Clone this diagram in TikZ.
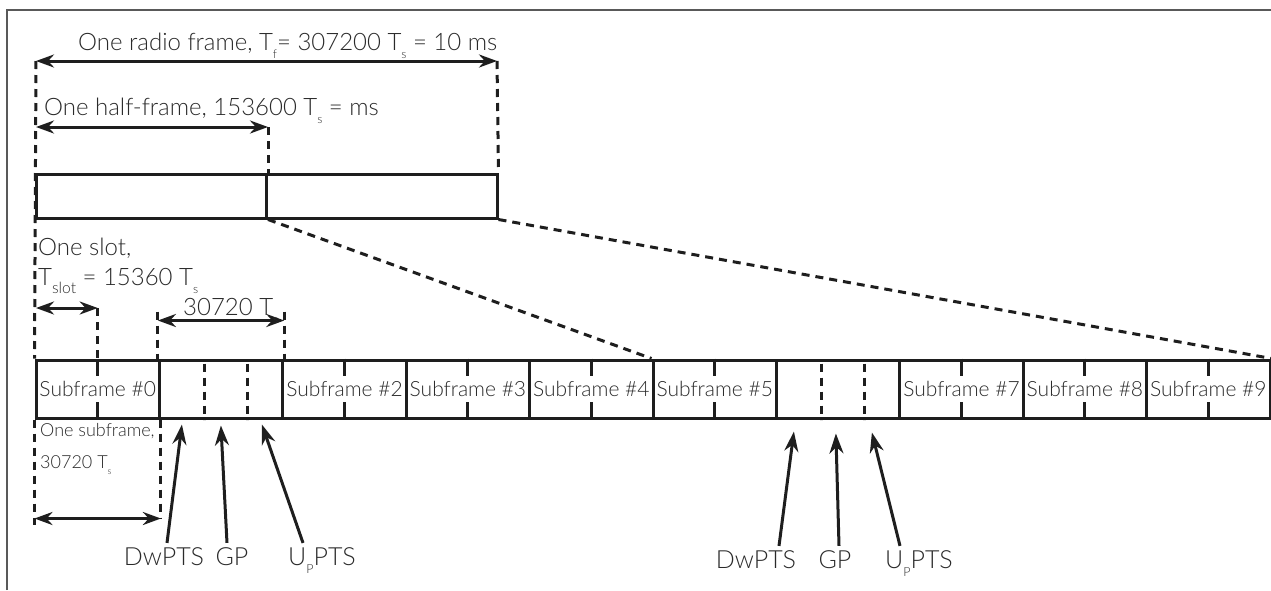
\documentclass[tikz,border=0pt]{standalone}
\usepackage{fontspec}
\setmainfont{Lato}[UprightFont=* Light]
\usetikzlibrary{arrows.meta,calc}

\definecolor{ink}{HTML}{2A2A2A}
\definecolor{rule}{HTML}{1E1E1E}
\newcommand{\lsub}[2][0.5]{\raisebox{-0.35em}{\scalebox{#1}{#2}}}

\begin{document}
\begin{tikzpicture}[x=1pt,y=-1pt]
        % styles
        \tikzstyle{half}=[draw=rule, line width=3pt, minimum width=230.5pt, minimum height=44pt, inner sep=0pt]
        \tikzstyle{subframe}=[draw=rule, line width=3pt, minimum width=123.4pt, minimum height=58pt, inner sep=0pt, text=ink, font=\fontsize{21}{24}\selectfont]
        \tikzstyle{slottick}=[rule, line width=3pt]
        \tikzstyle{guide}=[rule, line width=3pt, dash pattern=on 8pt off 6pt]
        \tikzstyle{dim}=[rule, line width=3pt, {Stealth[length=18pt,width=13pt]}-{Stealth[length=18pt,width=13pt]}]
        \tikzstyle{pointer}=[rule, line width=3pt, -{Stealth[length=20pt,width=14pt]}]
        \tikzstyle{lbl}=[text=ink, inner sep=0pt, font=\fontsize{24}{26}\selectfont]
        \tikzstyle{smalllbl}=[text=ink, inner sep=0pt, font=\fontsize{18}{20}\selectfont]
        \tikzstyle{field}=[text=ink, inner sep=4pt, font=\fontsize{25}{26}\selectfont]

        \useasboundingbox (0,0) rectangle (1271,590);

        % frame border
        \draw[black!65, line width=1.5pt] (7,590) -- (7,10) -- (1271,10);

        % radio frame
        \node[half] (half0) at (151.25,196) {};
        \node[half] (half1) at (381.75,196) {};

        % subframes
        \foreach \i/\name in {0/Subframe \#0,1/,2/Subframe \#2,3/Subframe \#3,4/Subframe \#4,5/Subframe \#5,6/,7/Subframe \#7,8/Subframe \#8,9/Subframe \#9}
            \node[subframe] (sf\i) at ({97.7+123.4*\i},389) {\name};

        % slot ticks
        \foreach \i in {0,2,3,4,5,7,8,9} {
            \draw[slottick] (sf\i.north) -- ++(0,17);
            \draw[slottick] (sf\i.south) -- ++(0,-18);
        }

        % special subframes
        \foreach \i in {1,6} {
            \draw[guide] ($(sf\i.north west)!0.37!(sf\i.north east)+(0,5)$) -- ($(sf\i.south west)!0.37!(sf\i.south east)$);
            \draw[guide] ($(sf\i.north west)!0.71!(sf\i.north east)+(0,5)$) -- ($(sf\i.south west)!0.71!(sf\i.south east)$);
        }

        % radio frame and half-frame
        \coordinate (rfL) at (36,61);
        \coordinate (rfR) at (497,61);
        \coordinate (hfL) at (36,127);
        \coordinate (hfR) at (half0.north east |- hfL);
        \draw[guide] (rfL) -- (sf0.north west);
        \draw[guide] (rfR) -- (half1.north east);
        \draw[guide] (hfR) -- (half0.north east);
        \draw[dim] (rfL) -- (rfR);
        \draw[dim] (hfL) -- (hfR);
        \node[lbl, anchor=base west] (rflabel) at (78,50) {One radio frame, T\lsub{f}= 307200 T\lsub{s} = 10 ms};
        \node[lbl, anchor=base west] (hflabel) at (44,115) {One half-frame, 153600 T\lsub{s} = ms};

        % zoom lines
        \draw[guide] (half0.south east) -- (sf5.north west);
        \draw[guide] (half1.south east) -- (sf9.north east);

        % slot
        \coordinate (slotL) at (36,308);
        \coordinate (slotR) at (sf0.north |- slotL);
        \draw[guide] (slotR) -- (sf0.north);
        \draw[dim] (slotL) -- (slotR);
        \node[lbl, anchor=base west] (slotlabel) at (38,255) {One slot,};
        \node[lbl, anchor=base west] (tslotlabel) at (38,285) {T\lsub[0.65]{slot} = 15360 T\lsub{s}};

        % special subframe length
        \coordinate (spL) at ($(sf1.north west)+(0,-38)$);
        \coordinate (spR) at ($(sf1.north east)+(0,-38)$);
        \coordinate (spLtop) at ($(sf1.north west)+(0,-47)$);
        \coordinate (spRtop) at ($(sf1.north east)+(0,-47)$);
        \draw[guide] (spLtop) -- (sf1.north west);
        \draw[guide] (spRtop) -- (sf1.north east);
        \draw[dim] (spL) -- (spR);
        \node[lbl, anchor=base west] (splabel) at (183,315) {30720 T\lsub{s}};

        % one subframe
        \coordinate (osL) at ($(sf0.south west)+(0,99)$);
        \coordinate (osR) at ($(sf0.south east)+(0,99)$);
        \coordinate (osLend) at ($(sf0.south west)+(0,105)$);
        \draw[guide] (sf0.south west) -- (osLend);
        \draw[guide] (sf0.south east) -- (osR);
        \draw[dim] (osL) -- (osR);
        \node[smalllbl, anchor=base west] (oslabel) at (40,436) {One subframe,};
        \node[smalllbl, anchor=base west] (os2label) at (40,468) {30720 T\lsub{s}};

        % special subframe fields
        \node[field, anchor=base] (dw1) at (164,565) {DwPTS};
        \node[field, anchor=base] (gp1) at (232,565) {GP};
        \node[field, anchor=base] (up1) at (322,565) {U\lsub{P}PTS};
        \node[field, anchor=base] (dw2) at (756,568) {DwPTS};
        \node[field, anchor=base] (gp2) at (835,568) {GP};
        \node[field, anchor=base] (up2) at (919,568) {U\lsub{P}PTS};
        \coordinate (dwtip1) at ($(sf1.south west)+(24,5)$);
        \coordinate (gptip1) at ($(sf1.south west)+(63,6)$);
        \coordinate (uptip1) at ($(sf1.south west)+(104,5)$);
        \coordinate (dwtip2) at ($(sf6.south west)+(19,12)$);
        \coordinate (gptip2) at ($(sf6.south west)+(61,14)$);
        \coordinate (uptip2) at ($(sf6.south west)+(97,13)$);
        \draw[pointer] ($(dw1.north)+(3,0)$) -- (dwtip1);
        \draw[pointer] ($(gp1.north)+(-5,0)$) -- (gptip1);
        \draw[pointer] ($(up1.north west)!0.25!(up1.north east)$) -- (uptip1);
        \draw[pointer] ($(dw2.north)+(23,0)$) -- (dwtip2);
        \draw[pointer] ($(gp2.north)+(4,0)$) -- (gptip2);
        \draw[pointer] ($(up2.north west)!0.25!(up2.north east)$) -- (uptip2);
\end{tikzpicture}
\end{document}
